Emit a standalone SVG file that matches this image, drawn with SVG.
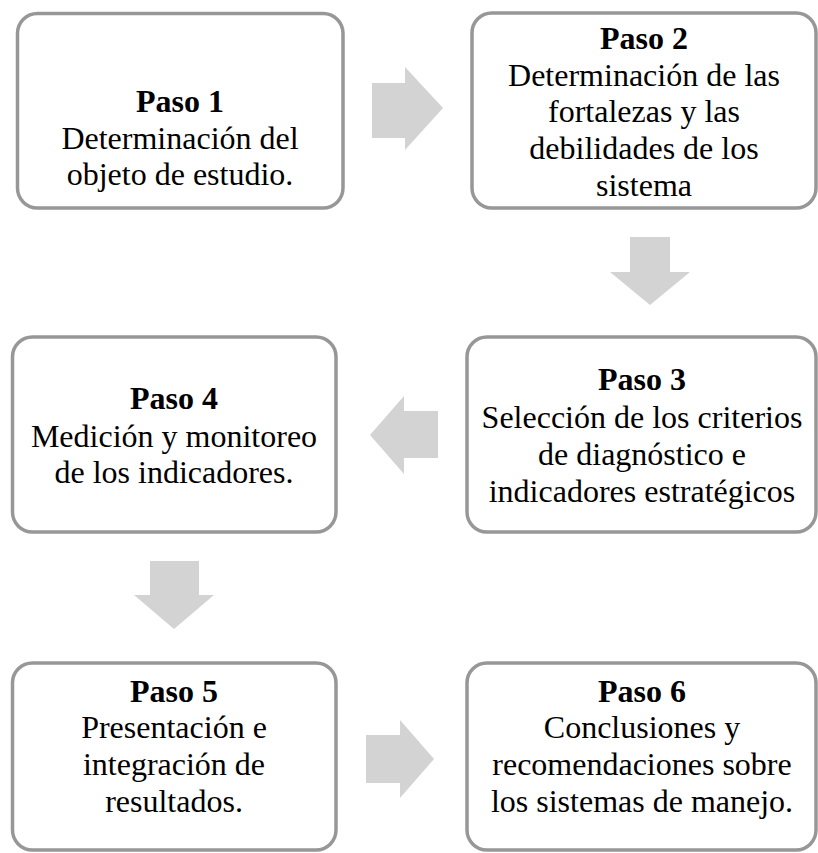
<svg xmlns="http://www.w3.org/2000/svg" width="818" height="853" viewBox="0 0 818 853">
<style>
.box{fill:#ffffff;stroke:#979797;stroke-width:3.5}
.arrow{fill:#d3d3d3;stroke:none}
text{font-family:"Liberation Serif","Times New Roman",serif;font-size:32px;fill:#000000;text-anchor:middle}
.t{font-weight:bold}
</style>
<rect width="818" height="853" fill="#ffffff"/>
<g id="connectors">
<polygon class="arrow" points="372,83 405,83 405,67 443,108 405,150 405,138 372,138"/>
<polygon class="arrow" points="630,237 670,237 670,272 690,272 650,305 610,272 630,272"/>
<polygon class="arrow" points="438,411 404,411 404,396 370,435 404,474 404,458 438,458"/>
<polygon class="arrow" points="150,561 199,561 199,595 214,595 174,629 134,595 150,595"/>
<polygon class="arrow" points="366,735 400,735 400,720 434,759 400,798 400,783 366,783"/>
</g>
<g id="paso1">
<rect class="box" x="17.5" y="13.5" width="325.5" height="194.5" rx="20"/>
<text x="180" y="112" class="t">Paso 1</text>
<text x="180" y="149">Determinación del</text>
<text x="180" y="185">objeto de estudio.</text>
</g>
<g id="paso2">
<rect class="box" x="472" y="13" width="344" height="195" rx="20"/>
<text x="644" y="49" class="t">Paso 2</text>
<text x="644" y="86">Determinación de las</text>
<text x="644" y="122">fortalezas y las</text>
<text x="644" y="159">debilidades de los</text>
<text x="644" y="196">sistema</text>
</g>
<g id="paso3">
<rect class="box" x="467" y="337" width="349" height="195" rx="20"/>
<text x="642" y="390" class="t">Paso 3</text>
<text x="642" y="428">Selección de los criterios</text>
<text x="642" y="465">de diagnóstico e</text>
<text x="642" y="502">indicadores estratégicos</text>
</g>
<g id="paso4">
<rect class="box" x="12.5" y="337" width="323.5" height="195" rx="20"/>
<text x="174" y="409" class="t">Paso 4</text>
<text x="174" y="447">Medición y monitoreo</text>
<text x="174" y="483">de los indicadores.</text>
</g>
<g id="paso5">
<rect class="box" x="12.5" y="663" width="323.5" height="187" rx="20"/>
<text x="174" y="702" class="t">Paso 5</text>
<text x="174" y="738">Presentación e</text>
<text x="174" y="775">integración de</text>
<text x="174" y="812">resultados.</text>
</g>
<g id="paso6">
<rect class="box" x="467" y="663" width="349" height="187" rx="20"/>
<text x="642" y="702" class="t">Paso 6</text>
<text x="642" y="738">Conclusiones y</text>
<text x="642" y="775">recomendaciones sobre</text>
<text x="642" y="812">los sistemas de manejo.</text>
</g>
</svg>
